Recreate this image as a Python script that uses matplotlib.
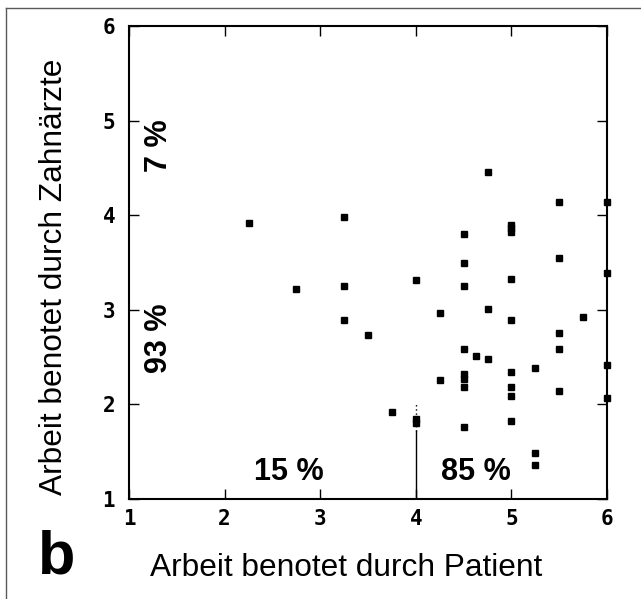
"""
Scatter: Arbeit benotet durch Patient vs. Zahnaerzte (panel b)
"""
import matplotlib
matplotlib.use('Agg')
import matplotlib.pyplot as plt
from matplotlib.lines import Line2D

# patient grade (x) -> dentist grades (y)
patient_x = [2.25, 2.75, 3.25, 3.25, 3.25, 3.5, 3.75, 4.0, 4.0, 4.0,
             4.25, 4.25,
             4.5, 4.5, 4.5, 4.5, 4.5, 4.5, 4.5, 4.5,
             4.63, 4.75, 4.75, 4.75,
             5.0, 5.0, 5.0, 5.0, 5.0, 5.0, 5.0, 5.0, 5.0,
             5.25, 5.25, 5.25,
             5.5, 5.5, 5.5, 5.5, 5.5,
             5.75,
             6.0, 6.0, 6.0, 6.0]
dentist_y = [3.92, 3.22, 3.98, 3.25, 2.89, 2.73, 1.92, 1.80, 1.85, 3.31,
             2.97, 2.26,
             3.80, 3.50, 3.25, 2.59, 2.32, 2.27, 2.18, 1.76,
             2.51, 4.46, 3.01, 2.48,
             3.90, 3.86, 3.82, 3.33, 2.89, 2.34, 2.18, 2.09, 1.82,
             2.39, 1.49, 1.36,
             4.14, 3.55, 2.75, 2.59, 2.14,
             2.92,
             4.14, 3.39, 2.42, 2.07]

ticks = [1, 2, 3, 4, 5, 6]
split_x = 4.0

# share labels: (text, x, y, rotation)
share_labels = [('7 %', 1.31, 4.74, 90), ('93 %', 1.31, 2.70, 90),
                ('15 %', 2.67, 1.29, 0), ('85 %', 4.63, 1.29, 0)]

fig = plt.figure(figsize=(6.41, 5.99), dpi=100)
ax = fig.add_axes([129 / 641, 1 - 499 / 599, 478 / 641, 473 / 599])

ax.plot(patient_x, dentist_y, 's', color='black', markersize=4.5,
        clip_on=False)

# split line at x = 4, solid below and dotted near the top
ax.plot([split_x, split_x], [1, 1.72], color='black', lw=1)
ax.plot([split_x, split_x], [1.72, 2.03], color='black', lw=1, ls=(0, (1, 2)))

for txt, x, y, rot in share_labels:
    ax.text(x, y, txt, rotation=rot, ha='center', va='center',
            fontsize=22, fontweight='bold', family='Liberation Sans')

ax.set_xlim(1, 6)
ax.set_ylim(1, 6)
ax.set_xticks(ticks)
ax.set_yticks(ticks)
ax.tick_params(direction='in', length=7, width=1, top=True, right=True,
               labelsize=15)
ax.tick_params(axis='x', pad=7)
ax.tick_params(axis='y', pad=10)
for lab in ax.get_xticklabels() + ax.get_yticklabels():
    lab.set_family('DejaVu Sans Mono')
    lab.set_fontweight('bold')
for s in ax.spines.values():
    s.set_linewidth(1.5)

ax.set_xlabel('Arbeit benotet durch Patient', fontsize=22.8,
              family='Liberation Sans')
ax.xaxis.set_label_coords((346 - 129) / 478, (499 - 576) / 473)
ax.xaxis.label.set_va('baseline')
ax.set_ylabel('Arbeit benotet durch Zahnärzte', fontsize=22.8,
              family='Liberation Sans')
ax.yaxis.set_label_coords((62 - 129) / 478, (499 - 276.5) / 473)
ax.yaxis.label.set_va('baseline')

fig.text(38 / 641, 1 - 573 / 599, 'b', fontsize=44, fontweight='bold',
         family='Liberation Sans', ha='left', va='baseline')

# thin frame round the panel (top and left edge visible)
fig.add_artist(Line2D([6 / 641, 1], [1 - 8 / 599] * 2, color='0.35', lw=1,
                      transform=fig.transFigure))
fig.add_artist(Line2D([6 / 641] * 2, [0, 1 - 8 / 599], color='0.35', lw=1,
                      transform=fig.transFigure))

fig.savefig('out.png', dpi=100)
